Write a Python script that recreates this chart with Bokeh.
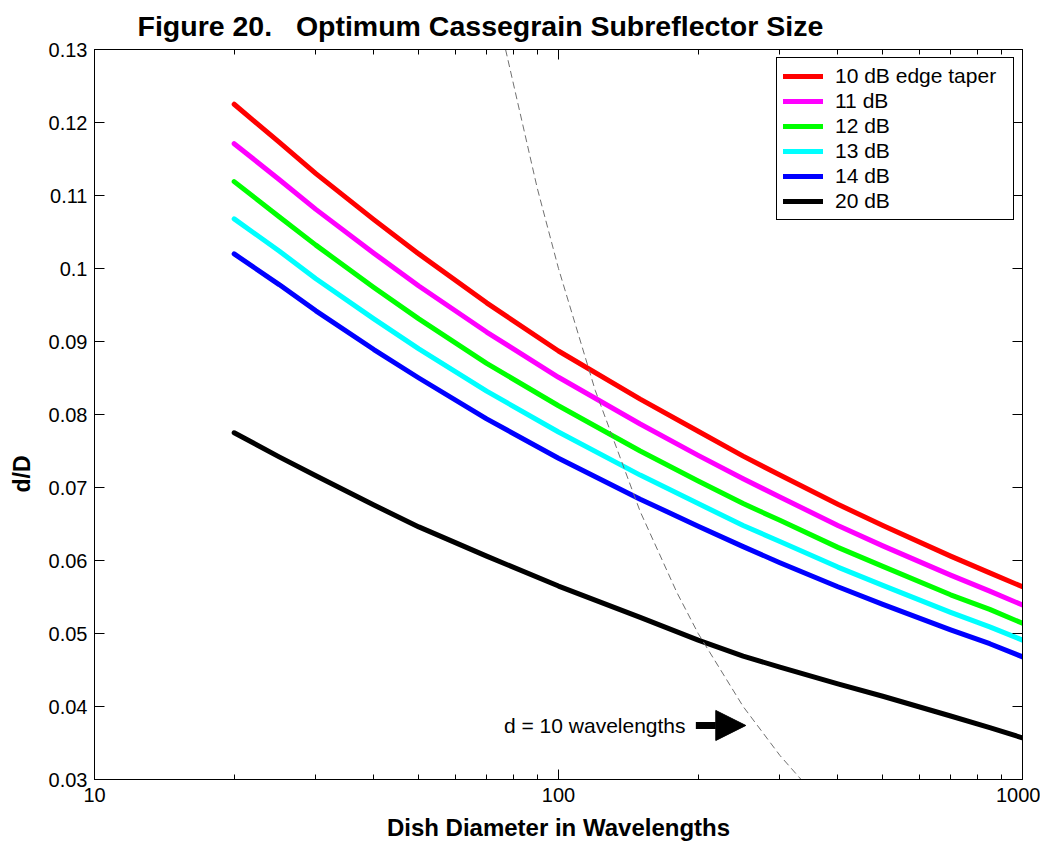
from bokeh.plotting import figure
from bokeh.models import (Range1d, FixedTicker, LogAxis, LinearAxis, Legend, LegendItem,
                          Arrow, NormalHead, Label, Title, CustomJSTickFormatter)
from bokeh.embed import file_html
from bokeh.resources import INLINE

# ---------------- data ----------------
diameter = [20, 25, 30, 40, 50, 70, 100, 150, 200, 250, 300, 400, 500, 700, 850, 1000]
taper_10db = [0.1225, 0.1173, 0.1130, 0.1067, 0.1020, 0.0953, 0.0887, 0.0821, 0.0777, 0.0743,
              0.0717, 0.0677, 0.0648, 0.0606, 0.0583, 0.0564]
taper_11db = [0.1171, 0.1122, 0.1081, 0.1021, 0.0976, 0.0913, 0.0851, 0.0787, 0.0744, 0.0712,
              0.0687, 0.0648, 0.0620, 0.0580, 0.0558, 0.0539]
taper_12db = [0.1119, 0.1071, 0.1032, 0.0974, 0.0931, 0.0870, 0.0812, 0.0750, 0.0709, 0.0678,
              0.0655, 0.0618, 0.0592, 0.0553, 0.0533, 0.0514]
taper_13db = [0.1068, 0.1024, 0.0986, 0.0931, 0.0890, 0.0832, 0.0776, 0.0717, 0.0678, 0.0648,
              0.0626, 0.0591, 0.0566, 0.0529, 0.0509, 0.0491]
taper_14db = [0.1020, 0.0978, 0.0942, 0.0889, 0.0850, 0.0794, 0.0740, 0.0684, 0.0647, 0.0619,
              0.0597, 0.0564, 0.0540, 0.0505, 0.0486, 0.0468]
taper_20db = [0.0775, 0.0742, 0.0716, 0.0676, 0.0646, 0.0606, 0.0565, 0.0522, 0.0491, 0.0469,
              0.0454, 0.0431, 0.0414, 0.0387, 0.0371, 0.0357]

series_values = [taper_10db, taper_11db, taper_12db, taper_13db, taper_14db, taper_20db]
series_labels = ["10 dB edge taper", "11 dB", "12 dB", "13 dB", "14 dB", "20 dB"]
series_colors = ["#ff0000", "#ff00ff", "#00ff00", "#00ffff", "#0000ff", "#000000"]

# d = 10 wavelengths reference curve
ref_diameter = [76.9, 90, 100, 120, 150, 180, 200, 250, 300, 333.3]
ref_ratio = [0.130, 0.111, 0.100, 0.0833, 0.0667, 0.0556, 0.050, 0.040, 0.0333, 0.030]

annotation_text = "d = 10 wavelengths"
annotation_x = 76.3
annotation_y = 0.0374
arrow_x = [197.7, 253.3]

x_ticks = [10, 100, 1000]
x_tick_labels = ["10", "100", "1000"]
x_minor_ticks = [20, 30, 40, 50, 60, 70, 80, 90, 200, 300, 400, 500, 600, 700, 800, 900]
y_ticks = [0.03, 0.04, 0.05, 0.06, 0.07, 0.08, 0.09, 0.1, 0.11, 0.12, 0.13]
y_tick_labels = ["0.03", "0.04", "0.05", "0.06", "0.07", "0.08", "0.09", "0.1", "0.11", "0.12", "0.13"]

title_text = "Figure 20.\u00a0\u00a0\u00a0Optimum Cassegrain Subreflector Size"
x_label = "Dish Diameter in Wavelengths"
y_label = "d/D"

FONT = "Liberation Sans"

LABEL_JS = """
let best = 0;
let bestd = Infinity;
for (let i = 0; i < tick_values.length; i++) {
    const d = Math.abs(tick_values[i] - tick);
    if (d < bestd) { bestd = d; best = i; }
}
return tick_labels[best];
"""

# ---------------- figure ----------------
p = figure(width=1040, height=843, x_axis_type="log",
           x_range=Range1d(10, 1000), y_range=Range1d(0.03, 0.13),
           output_backend="svg", toolbar_location=None,
           min_border_left=93, min_border_right=18, min_border_top=48, min_border_bottom=64,
           title=title_text)

p.background_fill_color = "white"
p.border_fill_color = "white"
p.outline_line_color = "black"
p.outline_line_width = 1
p.outline_line_alpha = 1
p.xgrid.visible = False
p.ygrid.visible = False

p.title.text_font = FONT
p.title.text_font_size = "28.5px"
p.title.text_font_style = "bold"
p.title.text_color = "black"
p.title.align = "left"
p.title.offset = 43
p.title.standoff = 15


def style_axis(ax, minor, show_labels):
    ax.axis_line_color = "black"
    ax.axis_line_width = 1
    ax.major_tick_line_color = "black"
    ax.major_tick_in = 10
    ax.major_tick_out = 0
    if minor:
        ax.minor_tick_line_color = "black"
        ax.minor_tick_in = 5
        ax.minor_tick_out = 0
    else:
        ax.minor_tick_line_color = None
    ax.major_label_text_font = FONT
    ax.major_label_text_color = "black"
    if not show_labels:
        ax.major_label_text_font_size = "1px"
        ax.major_label_text_alpha = 0
        ax.major_label_standoff = 0


# bottom
xax = p.xaxis[0]
xax.ticker = FixedTicker(ticks=x_ticks, minor_ticks=x_minor_ticks)
xax.formatter = CustomJSTickFormatter(args=dict(tick_values=x_ticks, tick_labels=x_tick_labels), code=LABEL_JS)
style_axis(xax, True, True)
xax.major_label_text_font_size = "20px"
xax.major_label_standoff = 8
xax.axis_label = x_label
xax.axis_label_text_font = FONT
xax.axis_label_text_font_size = "24px"
xax.axis_label_text_font_style = "bold"
xax.axis_label_text_color = "black"
xax.axis_label_standoff = 9

# left
yax = p.yaxis[0]
yax.ticker = FixedTicker(ticks=y_ticks)
yax.formatter = CustomJSTickFormatter(args=dict(tick_values=y_ticks, tick_labels=y_tick_labels), code=LABEL_JS)
style_axis(yax, False, True)
yax.major_label_text_font_size = "20px"
yax.major_label_standoff = 7

# top and right mirror axes (ticks only)
top_ax = LogAxis(ticker=FixedTicker(ticks=x_ticks, minor_ticks=x_minor_ticks))
style_axis(top_ax, True, False)
p.add_layout(top_ax, "above")

right_ax = LinearAxis(ticker=FixedTicker(ticks=y_ticks))
style_axis(right_ax, False, False)
p.add_layout(right_ax, "right")

# y axis title, placed off-centre as in the original
p.add_layout(Title(text=y_label, align="left", offset=287, standoff=17, vertical_align="top",
                   text_font=FONT, text_font_size="23px", text_font_style="bold",
                   text_color="black"), "left")

# ---------------- curves ----------------
items = []
for vals, lab, col in zip(series_values, series_labels, series_colors):
    r = p.line(diameter, vals, line_color=col, line_width=5, line_join="round", line_cap="round")
    items.append(LegendItem(label=lab, renderers=[r]))

p.line(ref_diameter, ref_ratio, line_color="#707070", line_width=1, line_dash="7 4")

legend = Legend(items=items, location="top_right", margin=8, padding=6, spacing=1,
                glyph_width=40, glyph_height=22, label_height=22, label_standoff=12,
                label_width=172,
                label_text_font=FONT, label_text_font_size="21px", label_text_color="black",
                border_line_color="black", border_line_width=1, border_line_alpha=1,
                background_fill_color="white", background_fill_alpha=1)
p.add_layout(legend)

p.add_layout(Label(x=annotation_x, y=annotation_y, text=annotation_text,
                   text_font=FONT, text_font_size="21px", text_color="black",
                   text_align="left", text_baseline="middle"))
p.add_layout(Arrow(x_start=arrow_x[0], y_start=annotation_y, x_end=arrow_x[1], y_end=annotation_y,
                   line_width=7, line_color="black",
                   end=NormalHead(size=30, fill_color="black", line_color="black")))

open("out.html", "w").write(file_html(p, INLINE))
